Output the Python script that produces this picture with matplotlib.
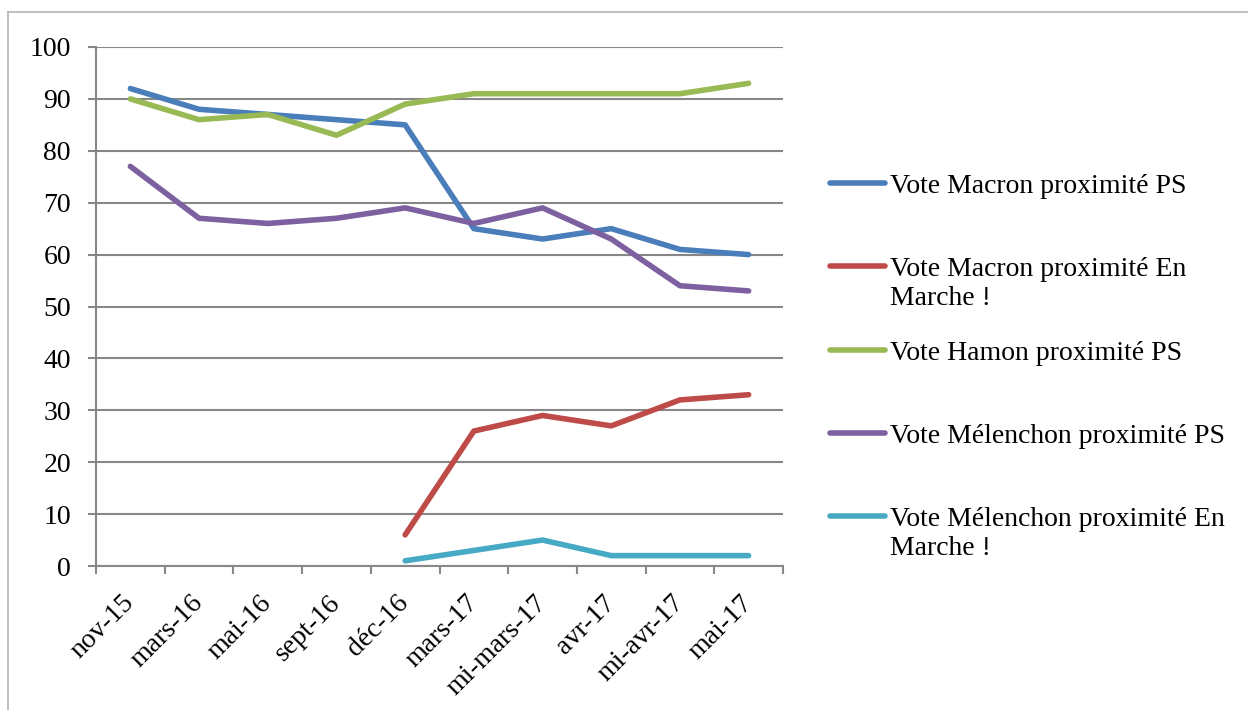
import numpy as np
import matplotlib
matplotlib.use("Agg")
import matplotlib.pyplot as plt
from matplotlib.lines import Line2D

categories = ["nov-15", "mars-16", "mai-16", "sept-16", "déc-16",
              "mars-17", "mi-mars-17", "avr-17", "mi-avr-17", "mai-17"]
macron_ps = [92, 88, 87, 86, 85, 65, 63, 65, 61, 60]
macron_em = [np.nan, np.nan, np.nan, np.nan, 6, 26, 29, 27, 32, 33]
hamon_ps = [90, 86, 87, 83, 89, 91, 91, 91, 91, 93]
melenchon_ps = [77, 67, 66, 67, 69, 66, 69, 63, 54, 53]
melenchon_em = [np.nan, np.nan, np.nan, np.nan, 1, 3, 5, 2, 2, 2]

series_labels = ["Vote Macron proximité PS",
                 "Vote Macron proximité En\nMarche !",
                 "Vote Hamon proximité PS",
                 "Vote Mélenchon proximité PS",
                 "Vote Mélenchon proximité En\nMarche !"]
series_values = [macron_ps, macron_em, hamon_ps, melenchon_ps, melenchon_em]
colors = ["#4A7EBB", "#BE4B48", "#98B954", "#7D60A0", "#46AAC5"]

FONT = "Liberation Serif"
FS = 20
LW = 4.0
W, H = 1250, 710
fig = plt.figure(figsize=(W / 100, H / 100), dpi=100)
ax = fig.add_axes([96 / W, 1 - 566 / H, (783 - 96) / W, (566 - 47) / H])

x = np.arange(len(categories))
for vals, col, lab in zip(series_values, colors, series_labels):
    ax.plot(x, vals, color=col, lw=LW, solid_capstyle="round",
            solid_joinstyle="round", label=lab, zorder=3)

ax.set_xlim(-0.5, len(categories) - 0.5)
ax.set_ylim(0, 100)
ax.set_yticks(np.arange(0, 101, 10))
ax.set_xticks(x)
ax.set_xticks(np.arange(-0.5, len(categories), 1), minor=True)
ax.set_xticklabels(categories, rotation=45, ha="right", va="center",
                   rotation_mode="anchor", fontsize=FS, family=FONT)
ax.tick_params(axis="x", which="major", length=0, pad=24)
ax.tick_params(axis="x", which="minor", length=6, width=1.5, color="#878787")
ax.tick_params(axis="y", length=6, width=1.5, color="#878787", pad=12,
               labelsize=FS)
for lab in ax.get_yticklabels():
    lab.set_family(FONT)
ax.grid(axis="y", color="#878787", lw=1.5, zorder=1)
ax.set_axisbelow(True)
for s in ["top", "right"]:
    ax.spines[s].set_visible(False)
for s in ["left", "bottom"]:
    ax.spines[s].set_color("#878787")
    ax.spines[s].set_linewidth(1.5)

# legend (manual, Excel-like even spacing)
for i, (col, lab) in enumerate(zip(colors, series_labels)):
    yp = 183 + 83.3 * i
    fig.add_artist(Line2D([830 / W, 885 / W], [1 - yp / H, 1 - yp / H],
                          color=col, lw=LW, solid_capstyle="round"))
    fig.text(890 / W, 1 - (yp - 9) / H, lab, fontsize=FS, family=FONT,
             va="top", ha="left", linespacing=1.2)

# outer chart frame (left and top edges visible)
fig.add_artist(Line2D([8 / W, 8 / W], [0, 1 - 12 / H], color="#B4B4B4", lw=1.2))
fig.add_artist(Line2D([8 / W, 1247 / W], [1 - 12 / H, 1 - 12 / H],
                      color="#B4B4B4", lw=1.2))

fig.savefig("out.png", dpi=100)
